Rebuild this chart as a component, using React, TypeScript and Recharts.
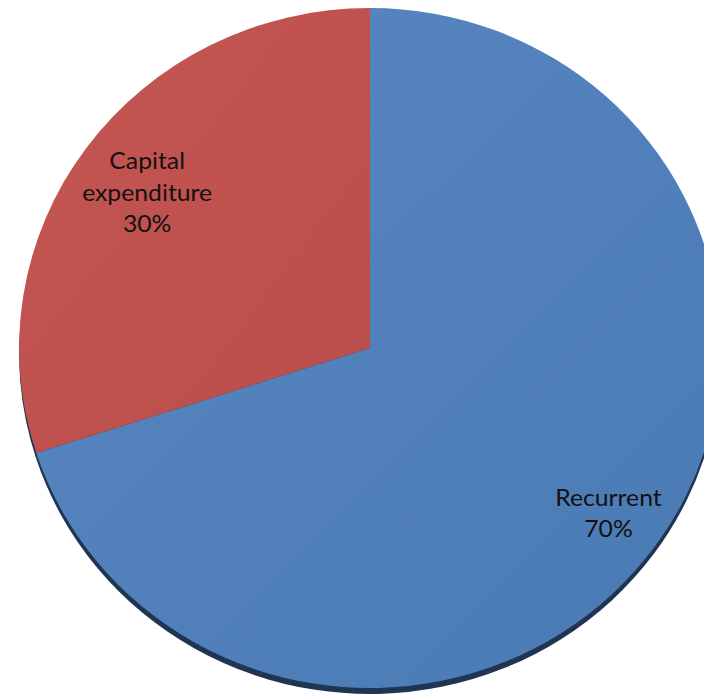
import { PieChart, Pie, Cell } from 'recharts';

const categories = ['Recurrent', 'Capital\nexpenditure'];
const shares = [70, 30];

const data = categories.map((name, i) => ({ name, value: shares[i] }));

const RADIAN = Math.PI / 180;

const renderLabel = (props: any) => {
  const { cx, cy, midAngle, outerRadius, index, percent } = props;
  const r = outerRadius * (index === 0 ? 0.84 : 0.785);
  const x = cx + r * Math.cos(-midAngle * RADIAN);
  const y = cy + r * Math.sin(-midAngle * RADIAN) - (index === 0 ? 4 : 0);
  const lines = [...categories[index].split('\n'), `${Math.round(percent * 100)}%`];
  const lh = 31.5;
  const y0 = y - ((lines.length - 1) * lh) / 2;
  return (
    <text x={x} y={y0} textAnchor="middle" dominantBaseline="central" fill="#111" fontSize={24} fontFamily="Lato, 'Open Sans', sans-serif">
      {lines.map((l, i) => (
        <tspan key={i} x={x} y={y0 + i * lh}>{l}</tspan>
      ))}
    </text>
  );
};

export default function App() {
  return (
    <div style={{ width: 704, height: 689, overflow: 'hidden', background: '#fff' }}>
      <div style={{ width: 704, height: 689, transform: 'scaleX(1.032)', transformOrigin: '362px 0' }}>
        <PieChart width={704} height={689} margin={{ top: 0, right: 0, bottom: 0, left: 0 }}>
          <defs>
            <linearGradient id="gBlue" x1="0" y1="0" x2="1" y2="1">
              <stop offset="0%" stopColor="#5887C2" />
              <stop offset="100%" stopColor="#4A7AB4" />
            </linearGradient>
            <linearGradient id="gRed" x1="0" y1="0" x2="1" y2="1">
              <stop offset="0%" stopColor="#C45653" />
              <stop offset="100%" stopColor="#BA4E4B" />
            </linearGradient>
          </defs>
          <Pie
            data={data}
            dataKey="value"
            cx={362}
            cy={346}
            outerRadius={340}
            startAngle={90}
            endAngle={-270}
            stroke="none"
            fill="#1F3552"
            isAnimationActive={false}
          />
          <Pie
            data={data}
            dataKey="value"
            cx={362}
            cy={340}
            outerRadius={340}
            startAngle={90}
            endAngle={-270}
            stroke="none"
            label={renderLabel}
            labelLine={false}
            isAnimationActive={false}
          >
            {data.map((d, i) => (
              <Cell key={d.name} fill={i === 0 ? 'url(#gBlue)' : 'url(#gRed)'} />
            ))}
          </Pie>
        </PieChart>
      </div>
    </div>
  );
}
